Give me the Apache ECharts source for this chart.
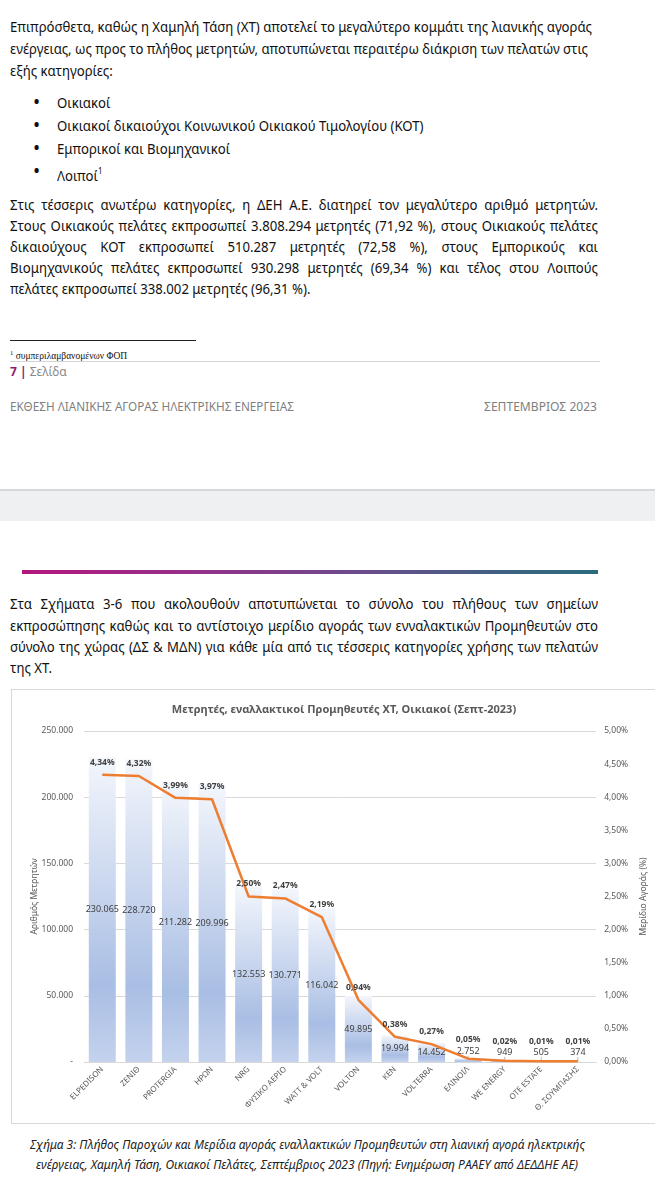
<!DOCTYPE html>
<html><head><meta charset="utf-8">
<script src="https://cdn.jsdelivr.net/npm/echarts@6/dist/echarts.min.js"></script>
<style>
html,body{margin:0;padding:0;width:655px;height:1200px;overflow:hidden;background:#fff;}
body{position:relative;font-family:"Noto Sans",sans-serif;color:#111;}
.t{position:absolute;left:10px;height:20px;line-height:20px;font-size:13.5px;white-space:nowrap;transform-origin:0 50%;}
.b{position:absolute;left:33px;height:20px;line-height:20px;font-size:19px;color:#111;}
.band{position:absolute;left:0;top:489px;width:655px;height:32px;background:#EFF0F2;border-top:2px solid #D6D7D9;box-sizing:border-box;}
#box{position:absolute;left:11px;top:689px;width:700px;height:435px;border:1px solid #D9D9D9;box-sizing:border-box;}
#chart{position:absolute;left:0;top:0;width:644px;height:433px;}
</style></head><body>

<!-- paragraph 1 -->
<div class="t" id="ref" data-w="582" data-m="f" style="top:17px">Επιπρόσθετα, καθώς η Χαμηλή Τάση (ΧΤ) αποτελεί το μεγαλύτερο κομμάτι της λιανικής αγοράς</div>
<div class="t" data-w="578" data-m="j" style="top:39px">ενέργειας, ως προς το πλήθος μετρητών, αποτυπώνεται περαιτέρω διάκριση των πελατών στις</div>
<div class="t" data-m="l" style="top:61px">εξής κατηγορίες:</div>

<!-- bullets -->
<div class="b" style="top:92px">•</div>
<div class="t" data-m="l" style="left:57px;top:93px">Οικιακοί</div>
<div class="b" style="top:115px">•</div>
<div class="t" data-m="l" style="left:57px;top:116px">Οικιακοί δικαιούχοι Κοινωνικού Οικιακού Τιμολογίου (ΚΟΤ)</div>
<div class="b" style="top:138px">•</div>
<div class="t" data-m="l" style="left:57px;top:139px">Εμπορικοί και Βιομηχανικοί</div>
<div class="b" style="top:161px">•</div>
<div class="t" data-m="l" style="left:57px;top:162px">Λοιποί<sup style="font-size:8px;position:relative;top:-1px">1</sup></div>

<!-- paragraph 2 -->
<div class="t" data-w="588" data-m="j" style="top:195px">Στις τέσσερις ανωτέρω κατηγορίες, η ΔΕΗ Α.Ε. διατηρεί τον μεγαλύτερο αριθμό μετρητών.</div>
<div class="t" data-w="588" data-m="j" style="top:216px">Στους Οικιακούς πελάτες εκπροσωπεί 3.808.294 μετρητές (71,92 %), στους Οικιακούς πελάτες</div>
<div class="t" data-w="588" data-m="j" style="top:237px">δικαιούχους ΚΟΤ εκπροσωπεί 510.287 μετρητές (72,58 %), στους Εμπορικούς και</div>
<div class="t" data-w="588" data-m="j" style="top:258px">Βιομηχανικούς πελάτες εκπροσωπεί 930.298 μετρητές (69,34 %) και τέλος στου Λοιπούς</div>
<div class="t" data-m="l" style="top:279px">πελάτες εκπροσωπεί 338.002 μετρητές (96,31 %).</div>

<!-- footnote -->
<div style="position:absolute;left:10px;top:340px;width:186px;height:1px;background:#222"></div>
<div style="position:absolute;left:10px;top:346px;font-family:'Liberation Serif',serif;font-size:9.5px;line-height:14px;color:#111;white-space:nowrap"><sup style="font-size:6.5px">1</sup> συμπεριλαμβανομένων ΦΟΠ</div>
<div style="position:absolute;left:10px;top:361px;width:590px;height:1px;background:#D4D4D4"></div>
<div style="position:absolute;left:10px;top:363px;font-size:12px;line-height:18px;white-space:nowrap"><b style="color:#8B1C6C">7 |</b> <span style="color:#8A8A8A">Σελίδα</span></div>

<!-- header of next region -->
<div class="t" data-w="284" data-m="f" style="top:397px;font-size:12px;color:#7F7F7F">ΕΚΘΕΣΗ ΛΙΑΝΙΚΗΣ ΑΓΟΡΑΣ ΗΛΕΚΤΡΙΚΗΣ ΕΝΕΡΓΕΙΑΣ</div>
<div class="t" data-w="113" data-m="f" style="left:484px;top:397px;font-size:12px;color:#7F7F7F">ΣΕΠΤΕΜΒΡΙΟΣ 2023</div>

<div class="band"></div>

<div style="position:absolute;left:22px;top:570px;width:576px;height:4px;background:linear-gradient(to right,#B3177C 0%,#94308A 30%,#6A4D8A 60%,#3C6381 85%,#2C6C7E 100%)"></div>

<!-- paragraph 3 -->
<div class="t" data-w="588" data-m="j" style="top:594px">Στα Σχήματα 3-6 που ακολουθούν αποτυπώνεται το σύνολο του πλήθους των σημείων</div>
<div class="t" data-w="588" data-m="j" style="top:616px">εκπροσώπησης καθώς και το αντίστοιχο μερίδιο αγοράς των ενναλακτικών Προμηθευτών στο</div>
<div class="t" data-w="588" data-m="j" style="top:637px">σύνολο της χώρας (ΔΣ &amp; ΜΔΝ) για κάθε μία από τις τέσσερις κατηγορίες χρήσης των πελατών</div>
<div class="t" data-m="l" style="top:658px">της ΧΤ.</div>

<div id="box"><div id="chart"></div></div>

<!-- caption -->
<div class="t" data-w="555" data-m="f" style="left:30px;top:1135px;font-style:italic;font-size:12px;color:#222">Σχήμα 3: Πλήθος Παροχών και Μερίδια αγοράς εναλλακτικών Προμηθευτών στη λιανική αγορά ηλεκτρικής</div>
<div class="t" data-w="542" data-m="f" style="left:36px;top:1155px;font-style:italic;font-size:12px;color:#222">ενέργειας, Χαμηλή Τάση, Οικιακοί Πελάτες, Σεπτέμβριος 2023 (Πηγή: Ενημέρωση ΡΑΑΕΥ από ΔΕΔΔΗΕ ΑΕ)</div>

<script>
// ---- data ----
const categories = ['ELPEDISON','ZENIΘ','PROTERGIA','ΗΡΩΝ','NRG','ΦΥΣΙΚΟ ΑΕΡΙΟ','WATT & VOLT','VOLTON','KEN','VOLTERRA','ΕΛΙΝΟΙΛ','WE ENERGY','OTE ESTATE','Θ. ΣΟΥΜΠΑΣΗΣ'];
const meters = [230065, 228720, 211282, 209996, 132553, 130771, 116042, 49895, 19994, 14452, 2752, 949, 505, 374];
const sharePct = [4.34, 4.32, 3.99, 3.97, 2.50, 2.47, 2.19, 0.94, 0.38, 0.27, 0.05, 0.02, 0.01, 0.01];
const chartTitle = 'Μετρητές, εναλλακτικοί Προμηθευτές ΧΤ, Οικιακοί (Σεπτ-2023)';
const leftAxisName = 'Αριθμός Μετρητών';
const rightAxisName = 'Μερίδιο Αγοράς (%)';

// ---- text fitting ----
(function fit(){
  const ref = document.getElementById('ref');
  const refNat = ref.getBoundingClientRect().width;
  const s = (+ref.dataset.w) / refNat;
  document.querySelectorAll('[data-m]').forEach(el=>{
    let m = el.dataset.m;
    const nat = el.getBoundingClientRect().width;
    const w = +el.dataset.w;
    if (m === 'j' && nat * s >= w) m = 'f';
    if (m === 'f') {
      el.style.transform = 'scaleX(' + (w/nat) + ')';
    } else if (m === 'l') {
      el.style.transform = 'scaleX(' + s + ')';
    } else if (m === 'j') {
      el.style.width = (w/s) + 'px';
      el.style.whiteSpace = 'normal';
      el.style.textAlign = 'justify';
      el.style.textAlignLast = 'justify';
      el.style.transform = 'scaleX(' + s + ')';
    }
  });
})();

// ---- chart ----
const fmtThousands = v => String(v).replace(/\B(?=(\d{3})+(?!\d))/g, '.');
const fmtPct = v => (+v).toFixed(2).replace('.', ',') + '%';
const FONT = 'Noto Sans';
const chart = echarts.init(document.getElementById('chart'), null, {renderer:'canvas'});
chart.setOption({
  animation:false,
  textStyle:{fontFamily:FONT},
  title:{text:chartTitle,left:327,top:9,textAlign:'center',
    textStyle:{fontFamily:FONT,fontSize:11,fontWeight:'bold',color:'#595959'}},
  grid:{left:72,top:41,width:518,height:331},
  xAxis:{type:'category',data:categories,
    axisLine:{lineStyle:{color:'#D9D9D9'}},axisTick:{show:false},
    axisLabel:{rotate:45,interval:0,fontSize:8,color:'#595959',margin:6,fontFamily:FONT}},
  yAxis:[
    {type:'value',min:0,max:250000,interval:50000,
     name:leftAxisName,nameLocation:'middle',nameGap:45,nameRotate:90,nameMoveOverlap:false,
     nameTextStyle:{fontSize:8.5,color:'#595959',fontFamily:FONT},
     axisLine:{show:false},axisTick:{show:false},
     axisLabel:{fontSize:8.5,color:'#595959',margin:11,fontFamily:FONT,
       formatter:v=> v===0 ? '-' : fmtThousands(v)},
     splitLine:{lineStyle:{color:'#D9D9D9',width:1}}},
    {type:'value',min:0,max:5,interval:0.5,position:'right',
     name:rightAxisName,nameLocation:'middle',nameGap:41,nameRotate:90,
     nameTextStyle:{fontSize:8.5,color:'#595959',fontFamily:FONT},
     axisLine:{show:false},axisTick:{show:false},splitLine:{show:false},
     axisLabel:{fontSize:8.5,color:'#595959',margin:8,fontFamily:FONT,formatter:v=>fmtPct(v)}}
  ],
  series:[
    {type:'bar',data:meters,barWidth:27,yAxisIndex:0,
     itemStyle:{color:new echarts.graphic.LinearGradient(0,0,0,1,[
        {offset:0,color:'#F3F6FC'},{offset:0.75,color:'#A9BEE4'},{offset:1,color:'#C4D2ED'}])},
     label:{show:true,position:'inside',fontSize:9,color:'#404040',fontFamily:FONT,
       formatter:p=>fmtThousands(p.value)},
     labelLayout:p=> (p.rect.height < 6 ? {dy:-9} : {}),
     labelLine:{show:true,lineStyle:{color:'#A6A6A6',width:0.8}}},
    {type:'line',data:sharePct,yAxisIndex:1,z:5,
     symbol:'circle',symbolSize:0.1,itemStyle:{color:'#ED7D31'},
     lineStyle:{color:'#ED7D31',width:2.5},
     label:{show:true,position:'top',distance:8,fontSize:8.5,fontWeight:'bold',color:'#404040',fontFamily:FONT,
       formatter:p=>fmtPct(p.value)},
     labelLayout:p=> (sharePct[p.dataIndex] < 0.1 ? {dy:-7} : {})}
  ]
});
</script>
</body></html>
